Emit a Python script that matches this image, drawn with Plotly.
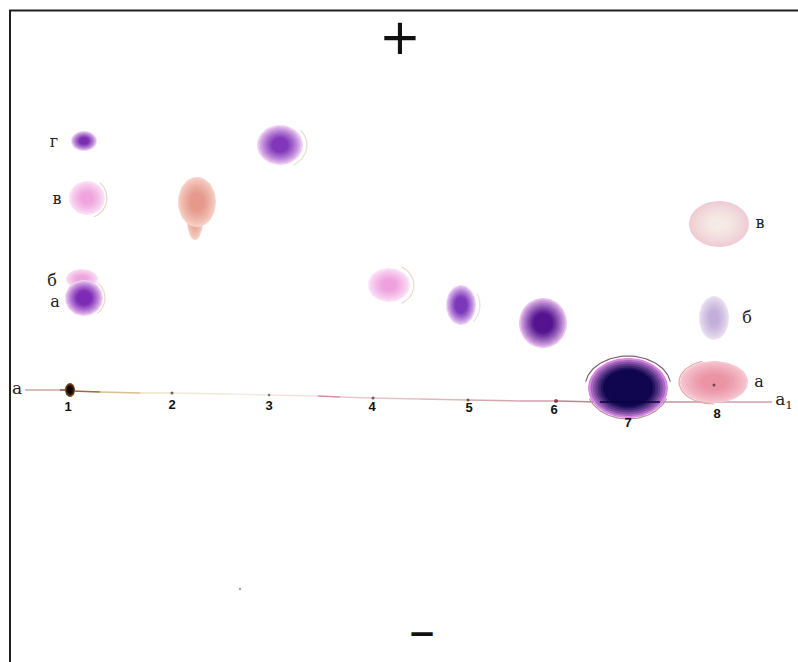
import numpy as np
import plotly.graph_objects as go

# spot tables (the narrow tail of lane 2 comes before its head)
spot_x = [84, 87, 82, 84, 195, 197, 280, 389, 461, 543, 628, 714, 714, 719, 70]
spot_y = [141, 198, 279, 298, 220, 202, 145, 285, 305, 323, 388, 382, 318, 224, 390]
spot_rx = [13, 18, 16, 19, 8, 19, 23, 21, 15, 24, 40, 34, 15, 30, 5]
spot_ry = [10, 17, 10, 18, 20, 25, 20, 17, 20, 25, 30, 21, 22, 23, 7]
spot_core = ["#7a30b0", "#f0a4de", "#eda6dc", "#7d2cb4", "#e8a898", "#e59a8c", "#8238ba", "#efa0de",
             "#7c38bc", "#55148f", "#100650", "#ea94a4", "#c4aeda", "#f6ebe4", "#150800"]
spot_edge = ["#f3d4f5", "#fbe4f6", "#fbe0f5", "#f3d0f5", "#f8d2c8", "#f8d2c8", "#f3d2f6", "#fce4f7",
             "#f0d4f6", "#ecc4f2", "#d888e4", "#f7c8d2", "#ebe2f2", "#efccd6", "#8a5a28"]
spot_gain = [1.5, 1.4, 1.4, 1.6, 1.5, 1.5, 1.5, 1.4, 1.6, 1.6, 2.6, 1.5, 1.4, 1.3, 2.0]

baseline_x = [25, 60, 68, 72, 100, 140, 172, 230, 268, 318, 340, 372, 420, 468, 520, 556, 600, 660, 700, 772]
baseline_y = [390, 390, 390, 391, 392, 393, 393, 394, 395, 396, 397, 398, 399, 400, 401, 401, 402, 402, 402, 402]
baseline_col = ["#caa8a0", "#8a5030", "#201008", "#a06a30", "#d8c090", "#efe4c8", "#f2e8d8", "#f4ece4",
                "#f4e0e0", "#d090a8", "#e8c8c8", "#e4c4c4", "#e0b8b8", "#d8a8b0", "#d49cb0", "#c08090",
                "#b07890", "#c890a0", "#d09cac", "#d09cac"]

dot_x = [172, 269, 373, 468, 556, 714, 240, 543]
dot_y = [393, 395, 398, 400, 401, 385, 589, 323]
dot_s = [3, 2.5, 3, 3, 4, 3, 2.5, 2]
dot_c = ["#40202a", "#404050", "#402040", "#402040", "#701020", "#402030", "#807070", "#401880"]

ring_x = [87, 84, 280, 389, 461, 628, 628, 714]
ring_y = [198, 298, 145, 285, 305, 387, 388, 382]
ring_rx = [20, 21, 27, 25, 19, 43, 41, 35]
ring_ry = [20, 20, 23, 21, 22, 31, 31, 22]
ring_from = [-50, -50, -40, -60, -30, 190, 20, 90]
ring_to = [70, 50, 60, 60, 50, 350, 160, 250]
ring_col = ["#e8d4c8", "#e8d8c8", "#e8dccc", "#e8dcd0", "#efe0d8", "#806078", "#b09098", "#e0a8a8"]

lane_labels = ["1", "2", "3", "4", "5", "6", "7", "8"]
lane_x = [68, 172, 269, 372, 469, 554, 628, 717]
lane_y = [408, 406, 407, 408, 409, 411, 424, 415]

side_labels = ["г", "в", "б", "а", "в", "б", "а"]
side_x = [54, 57, 52, 55, 760, 747, 759]
side_y = [143, 200, 282, 303, 224, 319, 383]
end_labels = ["а", "а<sub>1</sub>"]
end_x = [17, 784]
end_y = [390, 401]

frame_x = [10, 10, 798]
frame_y = [662, 10.5, 10.5]
LAYERS = 16


def hexrgb(h):
    return np.array([int(h[i:i + 2], 16) for i in (1, 3, 5)], float)


def ellipse(cx, cy, rx, ry, a=0, b=360):
    t = np.radians(np.linspace(a, b, 60))
    return cx + rx * np.cos(t), cy + ry * np.sin(t)


fig = go.Figure()

for i in range(len(baseline_x) - 1):
    fig.add_trace(go.Scatter(x=baseline_x[i:i + 2], y=baseline_y[i:i + 2], mode="lines",
                             line=dict(color=baseline_col[i], width=1.6)))

for i in range(len(spot_x)):
    c0, c1 = hexrgb(spot_edge[i]), hexrgb(spot_core[i])
    for k in range(LAYERS):
        f = k / (LAYERS - 1)
        sc = 1 - 0.94 * f
        col = c0 + (c1 - c0) * min(1.0, f * spot_gain[i]) ** 0.8
        ex, ey = ellipse(spot_x[i], spot_y[i], spot_rx[i] * sc, spot_ry[i] * sc)
        fig.add_trace(go.Scatter(x=ex, y=ey, mode="lines", fill="toself",
                                 fillcolor="rgb(%d,%d,%d)" % tuple(col), line=dict(width=0)))

for i in range(len(ring_x)):
    ex, ey = ellipse(ring_x[i], ring_y[i], ring_rx[i], ring_ry[i], ring_from[i], ring_to[i])
    fig.add_trace(go.Scatter(x=ex, y=ey, mode="lines", line=dict(color=ring_col[i], width=1.2)))

fig.add_trace(go.Scatter(x=baseline_x[16:18], y=baseline_y[16:18], mode="lines",
                         line=dict(color="#0a0440", width=1.5)))
fig.add_trace(go.Scatter(x=dot_x, y=dot_y, mode="markers",
                         marker=dict(color=dot_c, size=dot_s, line=dict(width=0))))

fig.add_trace(go.Scatter(x=frame_x, y=frame_y, mode="lines", line=dict(color="#202020", width=2)))

fig.add_trace(go.Scatter(x=lane_x, y=lane_y, mode="text", text=lane_labels,
                         textfont=dict(family="Liberation Sans", size=13, color="#111111", weight="bold")))
fig.add_trace(go.Scatter(x=side_x, y=side_y, mode="text", text=side_labels,
                         textfont=dict(family="DejaVu Serif", size=16, color="#222222")))
fig.add_trace(go.Scatter(x=end_x, y=end_y, mode="text", text=end_labels,
                         textfont=dict(family="DejaVu Serif", size=17, color="#222222")))
fig.add_trace(go.Scatter(x=[400], y=[41], mode="text", text=["+"],
                         textfont=dict(family="DejaVu Sans", size=50, color="#111111")))
fig.add_trace(go.Scatter(x=[422], y=[636], mode="text", text=["−"],
                         textfont=dict(family="DejaVu Sans", size=34, color="#111111", weight="bold")))

fig.update_layout(
    width=798, height=662, margin=dict(l=0, r=0, t=0, b=0), showlegend=False,
    paper_bgcolor="white", plot_bgcolor="white",
    xaxis=dict(range=[0, 798], visible=False, fixedrange=True),
    yaxis=dict(range=[662, 0], visible=False, fixedrange=True),
)
fig.write_html("out.html", config={"displayModeBar": False}, post_script="document.body.style.margin='0';")
